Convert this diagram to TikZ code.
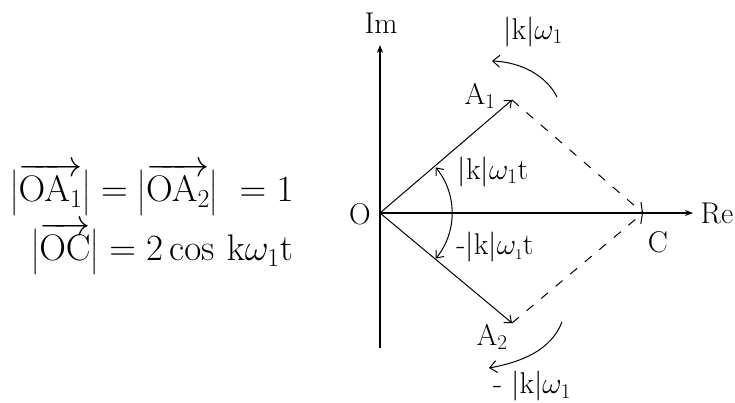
\RequirePackage{fix-cm}
\documentclass[tikz,border=0pt]{standalone}
\usepackage{amsmath}
\usetikzlibrary{arrows.meta}
\begin{document}
\begin{tikzpicture}[x=1pt,y=-1pt,
  axis/.style={line width=1.4pt,-{Stealth[length=8pt,width=6pt]}},
  vec/.style={line width=1pt,-{Straight Barb[length=6pt,width=10pt]}},
  dashvec/.style={line width=1pt,dash pattern=on 9pt off 10pt,-{Straight Barb[length=8pt,width=14pt]}},
  rot/.style={line width=1pt,-{Straight Barb[length=7pt,width=12pt]}},
  lbl/.style={font=\fontsize{30}{33}\selectfont,inner sep=1pt},
  big/.style={font=\fontsize{37}{40}\selectfont,inner sep=1pt}]
\useasboundingbox (0,0) rectangle (735,403);
\coordinate (O) at (380,213);
\coordinate (Ib) at (380,348);
\coordinate (It) at (380,45);
\coordinate (Rt) at (693,213);
\coordinate (A1) at (512,100);
\coordinate (A2) at (512,323);
\coordinate (C) at (643,213);
\coordinate (r1s) at (557,97);
\coordinate (r1e) at (492,61);
\coordinate (r2s) at (562,322);
\coordinate (r2e) at (489,368);
% axes
\draw[axis] (Ib) -- (It);
\draw[axis] (O) -- (Rt);
% vectors
\draw[vec] (O) -- (A1);
\draw[vec] (O) -- (A2);
\draw[dashvec] (A1) -- (C);
\draw[dashvec] (A2) -- (C);
% angle arc
\draw[line width=1pt,{Straight Barb[length=6pt,width=10pt]}-{Straight Barb[length=6pt,width=10pt]}]
  (O) ++(-39.3:72) arc[start angle=-39.3,end angle=39.3,radius=72];
% rotation arrows
\draw[rot] (r1s) .. controls (546,75) and (520,62) .. (r1e);
\draw[rot] (r2s) .. controls (551,350) and (522,362) .. (r2e);
% labels
\node[lbl] (lIm) at (381,23) {Im};
\node[lbl] (lRe) at (717,213) {Re};
\node[lbl] (lO) at (360,214) {O};
\node[lbl] (lA1) at (480,96) {A$_1$};
\node[lbl] (lA2) at (492,337) {A$_2$};
\node[lbl] (lC) at (658,242) {C};
\node[lbl] (lp) at (493,172) {$|$k$|\omega_1$t};
\node[lbl] (lm) at (495,247) {-$|$k$|\omega_{\scriptscriptstyle 1}$t};
\node[lbl] (lw1) at (533,32) {$|$k$|\omega_1$};
\node[lbl] (lw2) at (532,386) {- $|$k$|\omega_1$};
\node[big] (f1) at (152,189) {$\bigl|\overrightarrow{\mathrm{OA}_1}\bigr| = \bigl|\overrightarrow{\mathrm{OA}_2}\bigr|\ = 1$};
\node[big] (f2) at (162,248) {$\bigl|\overrightarrow{\mathrm{OC}}\bigr| = 2\cos\,\mathrm{k}\omega_1\mathrm{t}$};
\end{tikzpicture}
\end{document}
